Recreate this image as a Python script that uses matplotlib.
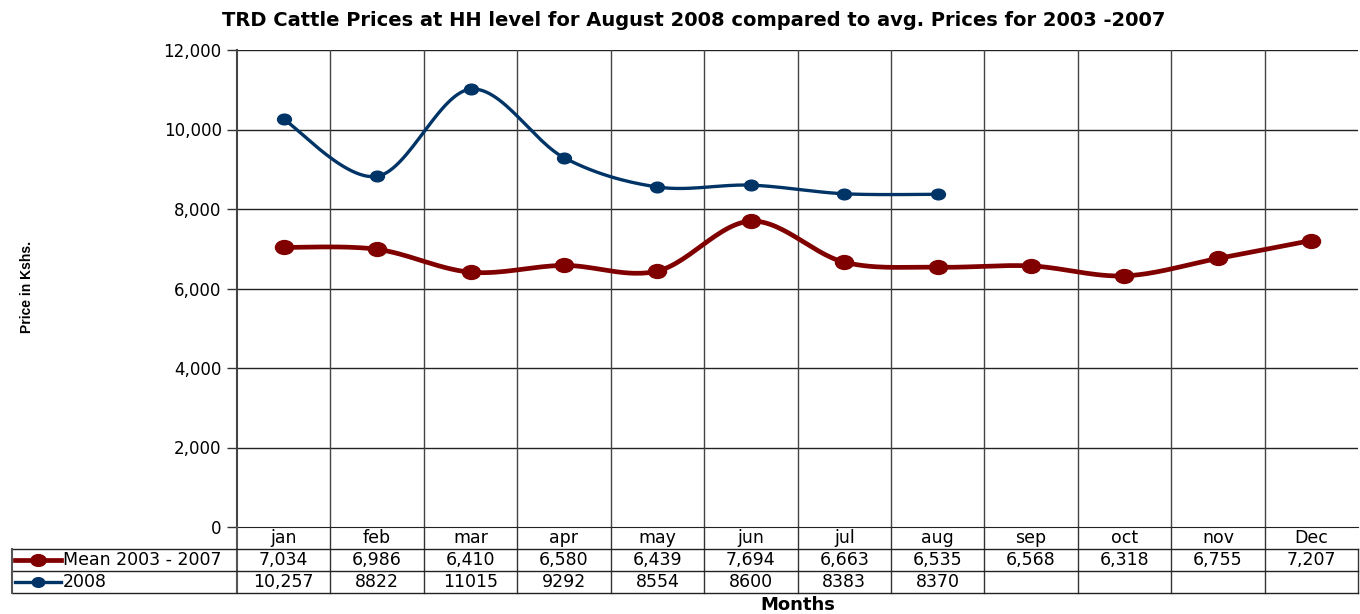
import numpy as np
import matplotlib.pyplot as plt
from matplotlib.transforms import blended_transform_factory, Affine2D
from matplotlib.path import Path

plt.rcParams['font.family'] = ['DejaVu Sans']

months = ['jan', 'feb', 'mar', 'apr', 'may', 'jun', 'jul', 'aug', 'sep', 'oct', 'nov', 'Dec']
mean_0307 = [7034, 6986, 6410, 6580, 6439, 7694, 6663, 6535, 6568, 6318, 6755, 7207]
prices_2008 = [10257, 8822, 11015, 9292, 8554, 8600, 8383, 8370]
mean_labels = ['7,034', '6,986', '6,410', '6,580', '6,439', '7,694', '6,663', '6,535',
               '6,568', '6,318', '6,755', '7,207']
labels_2008 = ['10,257', '8822', '11015', '9292', '8554', '8600', '8383', '8370']

RED = '#800000'
BLUE = '#003366'
# slightly flattened dot, as in the original
ELL = Path.unit_circle().transformed(Affine2D().scale(1.3, 1.0))


def smooth(x, y, n=30):
    # Catmull-Rom style bezier smoothing, like spreadsheet "smoothed line"
    x = np.asarray(x, float)
    y = np.asarray(y, float)
    px, py = [], []
    for i in range(len(x) - 1):
        x0, y0 = (x[i - 1], y[i - 1]) if i > 0 else (x[i], y[i])
        x3, y3 = (x[i + 2], y[i + 2]) if i + 2 < len(x) else (x[i + 1], y[i + 1])
        x1, y1, x2, y2 = x[i], y[i], x[i + 1], y[i + 1]
        c1x, c1y = x1 + (x2 - x0) / 6, y1 + (y2 - y0) / 6
        c2x, c2y = x2 - (x3 - x1) / 6, y2 - (y3 - y1) / 6
        t = np.linspace(0, 1, n)
        px.extend((1 - t) ** 3 * x1 + 3 * (1 - t) ** 2 * t * c1x + 3 * (1 - t) * t ** 2 * c2x + t ** 3 * x2)
        py.extend((1 - t) ** 3 * y1 + 3 * (1 - t) ** 2 * t * c1y + 3 * (1 - t) * t ** 2 * c2y + t ** 3 * y2)
    return px, py


W, H = 1360, 614
fig = plt.figure(figsize=(W / 100, H / 100), dpi=100)
left, right, top, bottom = 237, 1358, 50, 527
ax = fig.add_axes([left / W, 1 - bottom / H, (right - left) / W, (bottom - top) / H])

xs = np.arange(len(months)) + 0.5
x8 = xs[:len(prices_2008)]

sx, sy = smooth(xs, mean_0307)
ax.plot(sx, sy, color=RED, lw=3.4, zorder=3, solid_capstyle='round')
ax.plot(xs, mean_0307, ls='none', marker=ELL, color=RED, ms=13, zorder=4)
sx, sy = smooth(x8, prices_2008)
ax.plot(sx, sy, color=BLUE, lw=2.4, zorder=3, solid_capstyle='round')
ax.plot(x8, prices_2008, ls='none', marker=ELL, color=BLUE, ms=10, zorder=4)

ax.set_xlim(0, 12)
ax.set_ylim(0, 12000)
ax.set_yticks(np.arange(0, 12001, 2000))
ax.set_yticklabels([f'{v:,}' for v in range(0, 12001, 2000)], fontsize=12)
ax.set_xticks([])
ax.tick_params(axis='y', length=7, width=1, color='#333333', pad=4)
for v in range(2000, 12001, 2000):
    ax.axhline(v, color='#222222', lw=1, zorder=1)
for b in range(1, 12):
    ax.axvline(b, color='#444444', lw=1, zorder=1)
for s in ['top', 'right']:
    ax.spines[s].set_visible(False)
ax.spines['left'].set_color('#444444')
ax.spines['left'].set_linewidth(1.5)
ax.spines['bottom'].set_color('#222222')

# data table below the axes
tr = blended_transform_factory(ax.transData, fig.transFigure)
ftr = fig.transFigure


def fy(p):
    return 1 - p / H


def fx(p):
    return p / W


r0, r1, r2, r3 = 527, 549, 571, 593
for b in range(1, 12):
    fig.add_artist(plt.Line2D([b, b], [fy(r0), fy(r3)], transform=tr, color='#333333', lw=1))
fig.add_artist(plt.Line2D([12, 12], [fy(r1), fy(r3)], transform=tr, color='#333333', lw=1))
fig.add_artist(plt.Line2D([0, 0], [fy(r0), fy(r3)], transform=tr, color='#555555', lw=1.5))
for r in (r1, r2, r3):
    fig.add_artist(plt.Line2D([fx(12), fx(right)], [fy(r), fy(r)], transform=ftr, color='#222222', lw=1))
fig.add_artist(plt.Line2D([fx(12), fx(12)], [fy(r1), fy(r3)], transform=ftr, color='#555555', lw=1.5))

TS = 12.5
for i, m in enumerate(months):
    fig.text(xs[i], fy((r0 + r1) / 2), m, transform=tr, ha='center', va='center', fontsize=TS)
    fig.text(xs[i], fy((r1 + r2) / 2), mean_labels[i], transform=tr, ha='center', va='center', fontsize=TS)
for i, s in enumerate(labels_2008):
    fig.text(xs[i], fy((r2 + r3) / 2), s, transform=tr, ha='center', va='center', fontsize=TS)

# legend keys inside the table
for r, col, lw, ms, name in [((r1 + r2) / 2, RED, 3.4, 11, 'Mean 2003 - 2007'),
                             ((r2 + r3) / 2, BLUE, 2.4, 9, '2008')]:
    fig.add_artist(plt.Line2D([fx(15), fx(61)], [fy(r), fy(r)], transform=ftr, color=col, lw=lw))
    fig.add_artist(plt.Line2D([fx(38)], [fy(r)], transform=ftr, color=col, marker=ELL, ms=ms))
    fig.text(fx(63), fy(r), name, ha='left', va='center', fontsize=TS)

fig.text(fx(694), fy(20), 'TRD Cattle Prices at HH level for August 2008 compared to avg. Prices for 2003 -2007',
         ha='center', va='center', fontsize=14, fontweight='bold')
fig.text(fx(798), fy(605), 'Months', ha='center', va='center', fontsize=13, fontweight='bold')
fig.text(fx(27), fy(287), 'Price in Kshs.', rotation=90, ha='center', va='center', fontsize=10,
         fontweight='bold', family=['Liberation Sans Narrow', 'Liberation Sans'])

fig.savefig('out.png', dpi=100)
